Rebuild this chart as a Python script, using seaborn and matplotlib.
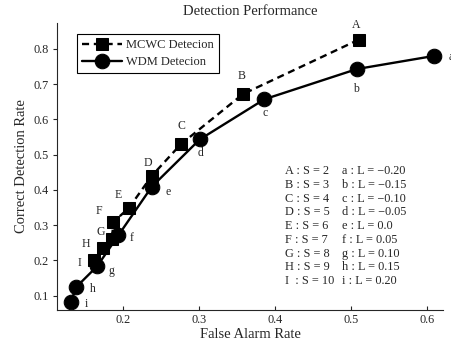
import matplotlib
matplotlib.use("Agg")
import matplotlib.pyplot as plt
import seaborn as sns
import pandas as pd

# ---- data ----
mcwc_labels = ["A", "B", "C", "D", "E", "F", "G", "H", "I"]
mcwc_far = [0.510, 0.358, 0.276, 0.238, 0.208, 0.187, 0.186, 0.174, 0.162]
mcwc_cdr = [0.826, 0.672, 0.529, 0.440, 0.349, 0.308, 0.260, 0.234, 0.200]

wdm_labels = ["a", "b", "c", "d", "e", "f", "g", "h", "i"]
wdm_far = [0.609, 0.508, 0.386, 0.301, 0.238, 0.194, 0.166, 0.138, 0.132]
wdm_cdr = [0.780, 0.743, 0.657, 0.543, 0.409, 0.271, 0.183, 0.123, 0.083]

key_left = ["A : S = 2", "B : S = 3", "C : S = 4", "D : S = 5", "E : S = 6",
            "F : S = 7", "G : S = 8", "H : S = 9", "I  : S = 10"]
key_right = ["a : L = \u22120.20", "b : L = \u22120.15", "c : L = \u22120.10",
             "d : L = \u22120.05", "e : L = 0.0", "f : L = 0.05",
             "g : L = 0.10", "h : L = 0.15", "i : L = 0.20"]

x_ticks = [0.2, 0.3, 0.4, 0.5, 0.6]
y_ticks = [0.1, 0.2, 0.3, 0.4, 0.5, 0.6, 0.7, 0.8]

# label offsets in pixels (layout only)
upper_offsets = [(-2, 15), (-1, 18), (1, 18), (-4, 13), (-11, 13),
                 (-14, 11), (-12, 7), (-17, 4), (-15, -3)]
lower_offsets = [(17, -1), (-1, -20), (1, -14), (1, -14), (16, -5),
                 (13, -3), (14, -5), (17, -2), (15, -2)]

sns.set_style("ticks")
plt.rcParams["font.family"] = ["Liberation Serif", "DejaVu Serif"]
plt.rcParams["mathtext.fontset"] = "stix"

fig = plt.figure(figsize=(4.52, 3.46), dpi=100)
ax = fig.add_axes([0.126, 0.104, 0.854, 0.830])

df_m = pd.DataFrame({"far": mcwc_far, "cdr": mcwc_cdr})
df_w = pd.DataFrame({"far": wdm_far, "cdr": wdm_cdr})

sns.lineplot(data=df_m, x="far", y="cdr", sort=False, ax=ax, color="black",
             marker="s", markersize=8.5, linewidth=1.7, dashes=False,
             label="MCWC Detecion", markeredgecolor="black")
ax.lines[-1].set_dashes((3, 2))
sns.lineplot(data=df_w, x="far", y="cdr", sort=False, ax=ax, color="black",
             marker="o", markersize=10.5, linewidth=1.7,
             label="WDM Detecion", markeredgecolor="black")

for lab, x, y, off in zip(mcwc_labels, mcwc_far, mcwc_cdr, upper_offsets):
    ax.annotate(lab, (x, y), xytext=off, textcoords="offset pixels",
                ha="center", va="center", fontsize=8.5, annotation_clip=False)
for lab, x, y, off in zip(wdm_labels, wdm_far, wdm_cdr, lower_offsets):
    ax.annotate(lab, (x, y), xytext=off, textcoords="offset pixels",
                ha="center", va="center", fontsize=8.5, annotation_clip=False)

for i, (l, r) in enumerate(zip(key_left, key_right)):
    ax.annotate(l, (0.591, 0.484), xycoords="axes fraction",
                xytext=(0, -13.75 * i), textcoords="offset pixels",
                ha="left", va="center", fontsize=8.8)
    ax.annotate(r, (0.738, 0.484), xycoords="axes fraction",
                xytext=(0, -13.75 * i), textcoords="offset pixels",
                ha="left", va="center", fontsize=8.8)

ax.set_xlim(0.1132, 0.621)
ax.set_ylim(0.059, 0.874)
ax.set_xticks(x_ticks)
ax.set_yticks(y_ticks)
ax.set_xticklabels([f"{v:.1f}" for v in x_ticks])
ax.set_yticklabels([f"{v:.1f}" for v in y_ticks])
ax.tick_params(axis="x", direction="in", length=3, width=0.8, labelsize=8.8, pad=3)
ax.tick_params(axis="y", direction="out", length=3, width=0.8, labelsize=8.8, pad=3)
sns.despine(ax=ax)
for s in ("left", "bottom"):
    ax.spines[s].set_linewidth(0.8)

ax.set_xlabel("False Alarm Rate", fontsize=10.5, labelpad=1)
ax.set_ylabel("Correct Detection Rate", fontsize=10.5, labelpad=4)
ax.set_title("Detection Performance", fontsize=10.5, pad=6)

leg = ax.legend(loc="upper left", bbox_to_anchor=(0.052, 0.96), borderaxespad=0,
                fontsize=9, frameon=True, fancybox=False, handlelength=3.2,
                handletextpad=0.3, borderpad=0.4, labelspacing=0.4)
leg.get_frame().set_edgecolor("black")
leg.get_frame().set_linewidth(0.8)
leg.get_frame().set_alpha(1)

fig.savefig("out.png", dpi=100)
